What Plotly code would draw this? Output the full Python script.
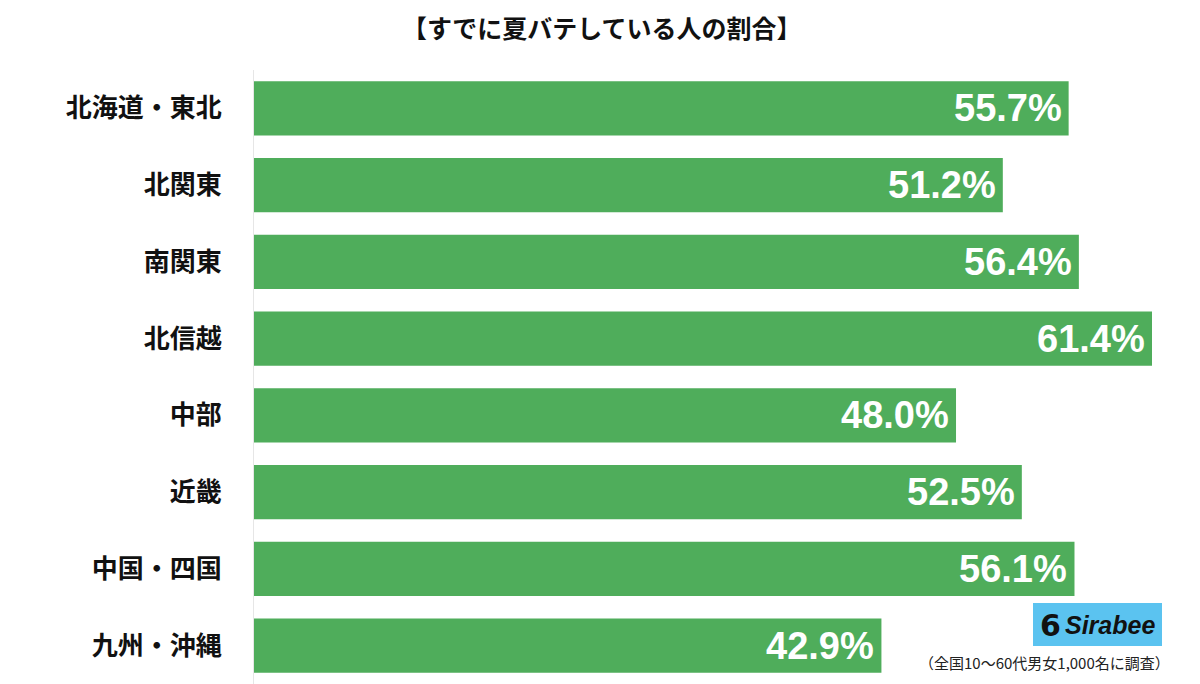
import plotly.graph_objects as go

categories = ["北海道・東北", "北関東", "南関東", "北信越", "中部", "近畿", "中国・四国", "九州・沖縄"]
values = [55.7, 51.2, 56.4, 61.4, 48.0, 52.5, 56.1, 42.9]
value_labels = ["55.7%", "51.2%", "56.4%", "61.4%", "48.0%", "52.5%", "56.1%", "42.9%"]
title_text = "【すでに夏バテしている人の割合】"
footnote = "（全国10〜60代男女1,000名に調査）"

GREEN = "#4FAD5B"
JP = "Noto Sans CJK JP"

OFF = 8  # page body margin
W, H = 1200, 684
L, T, R, B = 254 - OFF, 70 - OFF, 0, OFF
PW, PH = W - L - R, H - T - B
XMAX = PW / ((1152 - 254) / 61.4)


def px(x_page):
    return (x_page - OFF - L) / PW


def py(y_page):
    return (H - B - (y_page - OFF)) / PH


fig = go.Figure()
fig.add_trace(go.Bar(
    x=values, y=categories, orientation="h",
    marker=dict(color=GREEN, line=dict(width=0)),
    hoverinfo="skip",
))

for c, v, t in zip(categories, values, value_labels):
    fig.add_annotation(x=v, y=c, xref="x", yref="y", text=f"<b>{t}</b>",
                       showarrow=False, xanchor="right", yanchor="middle", xshift=-5, yshift=0,
                       font=dict(family="Liberation Sans, Arial", size=38, color="white"))

fig.add_annotation(x=px(602), y=py(27), xref="paper", yref="paper", xanchor="center", yanchor="middle",
                   text=f"<b>{title_text}</b>", showarrow=False,
                   font=dict(family=JP, size=25, color="#111111"))

# Sirabee logo box
fig.add_shape(type="rect", xref="paper", yref="paper",
              x0=px(1033), x1=px(1162), y0=py(646), y1=py(603),
              fillcolor="#5BC3F0", line=dict(width=0), layer="above")
fig.add_annotation(x=px(1050), y=py(625), xref="paper", yref="paper",
                   text="<b>6</b>", showarrow=False, xanchor="center", yanchor="middle",
                   font=dict(family="DejaVu Sans", size=30, color="#111111"))
fig.add_annotation(x=px(1110), y=py(625), xref="paper", yref="paper",
                   text="<b><i>Sirabee</i></b>", showarrow=False, xanchor="center", yanchor="middle",
                   font=dict(family="Liberation Sans, Arial", size=25, color="#111111"))
fig.add_annotation(x=px(1172), y=py(662), xref="paper", yref="paper",
                   text=footnote, showarrow=False, xanchor="right", yanchor="middle",
                   font=dict(family=JP, size=15, color="#222222"))

fig.update_layout(
    width=W, height=H,
    margin=dict(l=L, r=R, t=T, b=B, autoexpand=False),
    paper_bgcolor="white", plot_bgcolor="white",
    bargap=0.29, showlegend=False,
    xaxis=dict(range=[0, XMAX], visible=False, fixedrange=True, automargin=False),
    yaxis=dict(categoryorder="array", categoryarray=categories, autorange="reversed",
               tickmode="array", tickvals=categories,
               ticktext=[f"<b>{c}</b>" for c in categories],
               tickfont=dict(family=JP, size=26, color="#111111"),
               showline=True, linecolor="#e6e6e6", linewidth=1, automargin=False,
               ticks="", ticklabelstandoff=26, showgrid=False, zeroline=False),
)

fig.write_html("out.html")
